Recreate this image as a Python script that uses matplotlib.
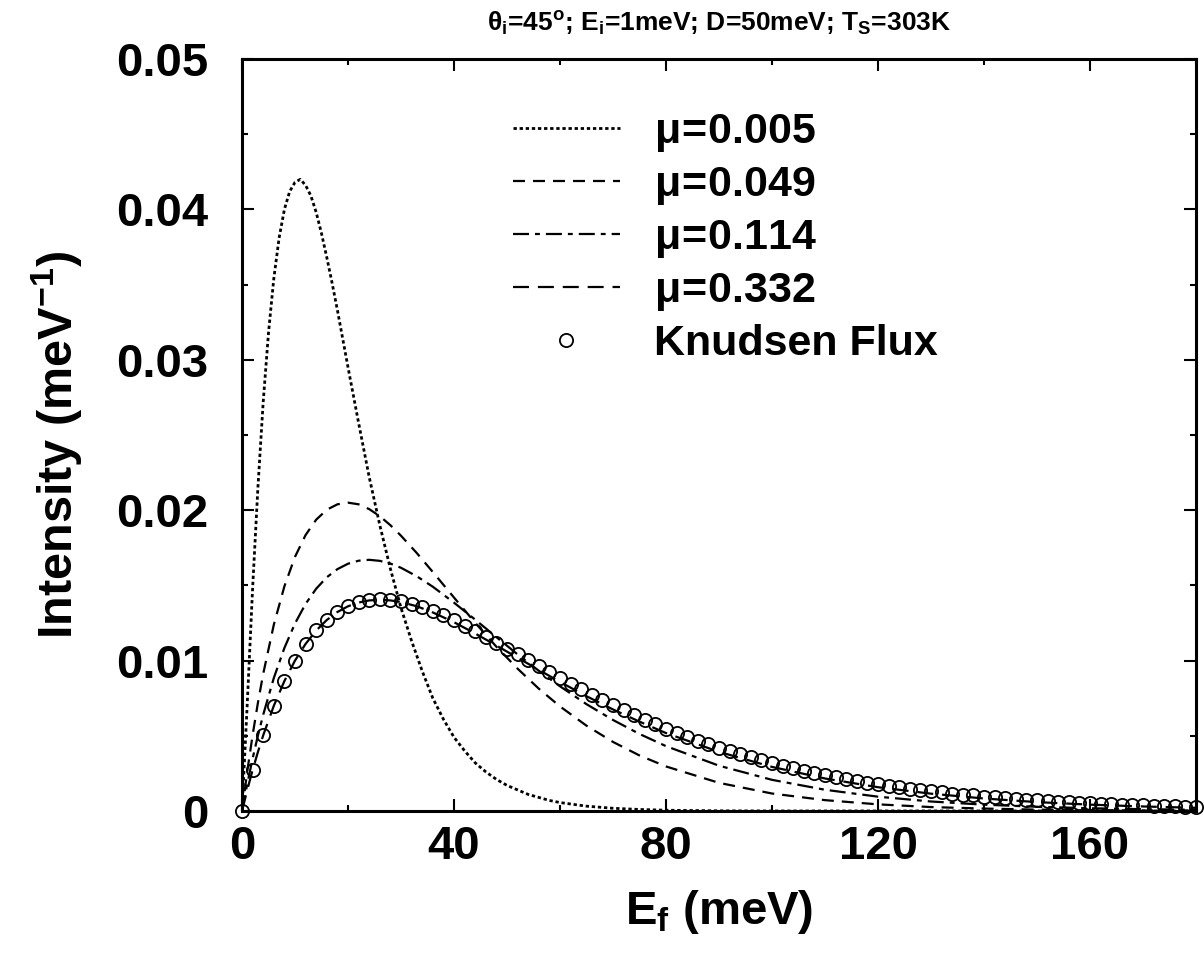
import matplotlib
matplotlib.use("Agg")

import numpy as np
import matplotlib.pyplot as plt
from matplotlib.legend_handler import HandlerLine2D

plt.rcParams["font.family"] = ["Liberation Sans", "DejaVu Sans"]
plt.rcParams["font.weight"] = "bold"
plt.rcParams["mathtext.fontset"] = "custom"
plt.rcParams["mathtext.rm"] = "Liberation Sans"
plt.rcParams["mathtext.it"] = "Liberation Sans:italic"
plt.rcParams["mathtext.bf"] = "Liberation Sans:bold"
plt.rcParams["mathtext.default"] = "rm"

# ---------------- data ----------------
# mu = 0.005 (dotted)
e_005 = [0, 1, 2, 3, 4, 5, 6, 7, 8, 9, 10, 11, 12, 13, 14, 15, 16, 17, 18, 19, 20,
         22, 24, 26, 28, 30, 32, 34, 36, 38, 40, 42, 44, 46, 48, 50, 52, 54, 56, 58, 60,
         65, 70, 75, 80, 90, 100, 120, 140, 160, 180]
i_005 = [0.0, 0.0072, 0.0148, 0.0215, 0.0272, 0.0318, 0.0354, 0.0381, 0.0400, 0.0412,
         0.0418, 0.0420, 0.0416, 0.0409, 0.0398, 0.0384, 0.0368, 0.0351, 0.0333, 0.0314,
         0.0295, 0.0258, 0.0222, 0.0190, 0.0161, 0.0135, 0.0113, 0.0093, 0.0075, 0.0061,
         0.0049, 0.0040, 0.0032, 0.0026, 0.0021, 0.0017, 0.0014, 0.0011, 0.0009, 0.0007,
         0.00056, 0.00032, 0.00018, 0.0001, 0.00005, 0.00001, 0.0, 0.0, 0.0, 0.0, 0.0]

# common energy grid for the broader curves
e_grid = [0, 1, 2, 3, 4, 6, 8, 10, 12, 14, 16, 18, 20, 22, 24, 26, 28, 30, 33, 36,
          40, 44, 48, 52, 56, 60, 65, 70, 75, 80, 90, 100, 110, 120, 130, 140, 150,
          160, 170, 180]

i_049 = [0.0, 0.00265, 0.00504, 0.00719, 0.00912, 0.01238, 0.01494, 0.01690, 0.01835,
         0.01937, 0.02003, 0.02039, 0.02050, 0.02039, 0.02007, 0.01960, 0.01900, 0.01830,
         0.01714, 0.01589, 0.01419, 0.01251, 0.01092, 0.00946, 0.00813, 0.00695, 0.00567,
         0.00459, 0.00369, 0.00296, 0.00187, 0.00116, 0.00072, 0.00044, 0.00026, 0.00016,
         0.00009, 0.00006, 0.00003, 0.00002]

i_114 = [0.0, 0.00181, 0.00348, 0.00501, 0.00640, 0.00884, 0.01084, 0.01247, 0.01377,
         0.01478, 0.01554, 0.01608, 0.01644, 0.01664, 0.01670, 0.01663, 0.01645, 0.01617,
         0.01560, 0.01491, 0.01385, 0.01272, 0.01156, 0.01041, 0.00932, 0.00829, 0.00710,
         0.00605, 0.00512, 0.00431, 0.00301, 0.00207, 0.00141, 0.00095, 0.00063, 0.00042,
         0.00028, 0.00018, 0.00012, 0.00008]

i_332 = [0.0, 0.00141, 0.00272, 0.00392, 0.00503, 0.00699, 0.00864, 0.01000, 0.01111,
         0.01200, 0.01270, 0.01323, 0.01361, 0.01386, 0.01400, 0.01404, 0.01400, 0.01389,
         0.01361, 0.01320, 0.01255, 0.01180, 0.01100, 0.01019, 0.00938, 0.00858, 0.00763,
         0.00675, 0.00594, 0.00518, 0.00393, 0.00293, 0.00216, 0.00158, 0.00115, 0.00083,
         0.00059, 0.00042, 0.00030, 0.00021]

# Knudsen flux, one circle every 2 meV
e_knud = list(range(0, 181, 2))
i_knud = [0.0, 0.00272, 0.00504, 0.00700, 0.00864, 0.01000, 0.01112, 0.01201, 0.01272,
          0.01325, 0.01364, 0.01390, 0.01404, 0.01409, 0.01406, 0.01395, 0.01378, 0.01356,
          0.01330, 0.01301, 0.01268, 0.01233, 0.01197, 0.01159, 0.01120, 0.01080, 0.01041,
          0.01001, 0.00962, 0.00923, 0.00885, 0.00847, 0.00810, 0.00773, 0.00738, 0.00704,
          0.00670, 0.00638, 0.00607, 0.00577, 0.00548, 0.00521, 0.00494, 0.00468, 0.00444,
          0.00421, 0.00398, 0.00377, 0.00357, 0.00337, 0.00319, 0.00301, 0.00284, 0.00268,
          0.00253, 0.00239, 0.00225, 0.00213, 0.00200, 0.00189, 0.00178, 0.00167, 0.00158,
          0.00148, 0.00140, 0.00131, 0.00124, 0.00116, 0.00109, 0.00103, 0.00096, 0.00091,
          0.00085, 0.00080, 0.00075, 0.00070, 0.00066, 0.00062, 0.00058, 0.00055, 0.00051,
          0.00048, 0.00045, 0.00042, 0.00040, 0.00037, 0.00035, 0.00033, 0.00031, 0.00029,
          0.00027]

x_ticks = [0, 40, 80, 120, 160]
y_ticks = [0, 0.01, 0.02, 0.03, 0.04, 0.05]
y_ticklabels = ["0", "0.01", "0.02", "0.03", "0.04", "0.05"]


class RightMarker(HandlerLine2D):
    # put the legend circle at the right end of the sample, like the original
    def get_xdata(self, legend, xdescent, ydescent, width, height, fontsize):
        xd, xm = super().get_xdata(legend, xdescent, ydescent, width, height, fontsize)
        return xd, [-xdescent + width]


fig = plt.figure(figsize=(12.04, 9.56), dpi=100)
ax = fig.add_axes([0.201, 0.1517, 0.7924, 0.7866])

lw = 1.6
ax.plot(e_005, i_005, color="black", lw=2.0, dashes=(1.2, 1.0), label=r"$\mu\!=\!$0.005")
ax.plot(e_grid, i_049, color="black", lw=lw, dashes=(5.4, 3.6), label=r"$\mu\!=\!$0.049")
ax.plot(e_grid, i_114, color="black", lw=lw, dashes=(7.2, 2.7, 2.2, 2.7), label=r"$\mu\!=\!$0.114")
ax.plot(e_grid, i_332, color="black", lw=lw, dashes=(7.2, 4.0), label=r"$\mu\!=\!$0.332")
kn, = ax.plot(e_knud, i_knud, ls="none", marker="o", ms=9.5, mfc="none", mec="black",
              mew=1.3, label="Knudsen Flux", clip_on=False)

ax.set_xlim(0, 180)
ax.set_ylim(0, 0.05)
ax.set_xticks(x_ticks)
ax.set_xticks(range(0, 181, 20), minor=True)
ax.set_yticks(y_ticks)
ax.set_yticklabels(y_ticklabels)
ax.set_yticks(np.arange(0, 0.0501, 0.005), minor=True)

ax.tick_params(which="both", direction="in", top=True, right=True, width=1.5)
ax.tick_params(which="major", length=8.5)
ax.tick_params(which="minor", length=4.3)
ax.tick_params(axis="x", labelsize=34, pad=10)
ax.tick_params(axis="y", labelsize=34, pad=24)
for s in ax.spines.values():
    s.set_linewidth(2.2)

ax.set_xlabel(r"E$_\mathbf{f}$ (meV)", fontsize=34, fontweight="bold", labelpad=14)
ax.set_ylabel(r"Intensity (meV$^\mathbf{-1}$)", fontsize=35, fontweight="bold")
ax.yaxis.set_label_coords(-0.165, 0.487)
ax.set_title(r"$\theta_\mathbf{i}$=45$^\mathbf{o}$; E$_\mathbf{i}$=1meV; D=50meV; T$_\mathbf{S}$=303K",
             fontsize=19, fontweight="bold", pad=20)

leg = ax.legend(loc="upper left", bbox_to_anchor=(0.284, 0.930), frameon=False,
                fontsize=31, handlelength=2.48, handletextpad=0.8, labelspacing=0.26,
                borderpad=0, borderaxespad=0, numpoints=1,
                handler_map={kn: RightMarker()})

plt.savefig("out.png", dpi=100)
plt.close()
